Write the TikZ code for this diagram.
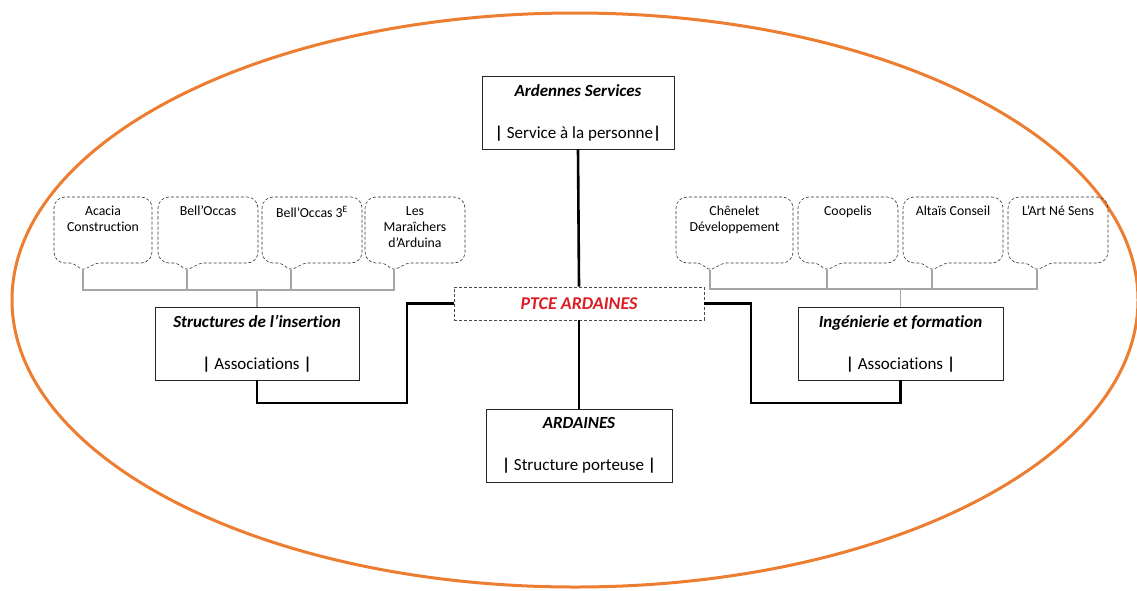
\documentclass[tikz,border=0pt]{standalone}
\usepackage{fontspec}
\setmainfont[Ligatures={NoCommon}]{Carlito}
\newcommand\vb{\textbf{|}}
\begin{document}
\begin{tikzpicture}[x=1pt,y=-1pt,
  bigbox/.style={draw=black!85,line width=0.9pt,fill=white,minimum width=#1,minimum height=73pt,inner sep=0pt,align=center,font=\fontsize{17}{17}\selectfont},
  ctext/.style={anchor=north,inner sep=0pt,align=center,font=\fontsize{13.8}{16}\selectfont},
  callout/.style={draw=black!80,densely dashed,line width=0.6pt},
  mainlink/.style={draw=black,line width=2.6pt},
  sublink/.style={draw=black!35,line width=1.8pt},
  ring/.style={draw={rgb,255:red,237;green,125;blue,49},line width=3pt}
]
\useasboundingbox (0,0) rectangle (1137,590);
\draw[ring] (575,300) ellipse [x radius=563pt, y radius=287pt];

% callout macro: name, x-left, x-right, tip x, text
\newcommand\mycallout[5]{%
  \draw[callout,rounded corners=11pt] (#2,230) -- (#2,197) -- (#3,197) -- (#3,263)
     [rounded corners=2pt] -- ({#4+14},263) -- (#4,270) -- ({#4-11},263) [rounded corners=11pt] -- (#2,263) -- cycle;
  \node[ctext] (#1) at ({(#2+#3)/2},206) {#5};
  \coordinate (#1tip) at (#4,270);
}

% central boxes
\node[bigbox=192pt] (as) at (578,112.5) {\textbf{\textit{Ardennes Services}}\\[25pt]\vb\ Service à la personne\vb};
\node[bigbox=186pt] (ard) at (579,445.5) {\textbf{\textit{ARDAINES}}\\[25pt]\vb\ Structure porteuse \vb};
\node[bigbox=204pt] (sdi) at (257,343.5) {\textbf{\textit{Structures de l’insertion}}\\[25pt]\vb\ Associations \vb};
\node[bigbox=205pt] (ief) at (900.5,343.5) {\textbf{\textit{Ingénierie et formation}}\\[25pt]\vb\ Associations \vb};
\node[draw=black!70,densely dashed,line width=0.7pt,fill=white,minimum width=250pt,minimum height=33pt,inner sep=0pt,
      font=\fontsize{18}{18}\selectfont\bfseries\itshape,text={rgb,255:red,220;green,30;blue,36}] (ptce) at (579,303.5) {PTCE ARDAINES};

% main links
\draw[mainlink] (as.south) -- (ptce.north);
\draw[mainlink] (ptce.south) -- (ard.north);
\draw[mainlink] (ptce.west) -| (407,403) -| (sdi.south);
\draw[mainlink] (ptce.east) -| (751,403) -| (ief.south);

% callouts left
\mycallout{l1}{54}{152}{83}{Acacia\\Construction}
\mycallout{l2}{158}{258}{187}{Bell’Occas}
\mycallout{l3}{262}{362}{291}{Bell’Occas 3\textsuperscript{E}}
\mycallout{l4}{365}{465}{394}{Les\\Maraîchers\\d’Arduina}
% callouts right
\mycallout{r1}{676}{793}{710}{Chênelet\\Développement}
\mycallout{r2}{798}{898}{827}{Coopelis}
\mycallout{r3}{903}{1003}{932}{Altaïs Conseil}
\mycallout{r4}{1008}{1108}{1037}{L’Art Né Sens}

% sub links
\coordinate (lj) at (257,290);
\coordinate (rj) at (900.5,289);
\draw[sublink] (sdi.north) -- (lj);
\draw[sublink] (l1tip) |- (lj) -| (l4tip);
\draw[sublink] (l2tip) -- (l2tip|-lj);
\draw[sublink] (l3tip) -- (l3tip|-lj);
\draw[sublink] (ief.north) -- (rj);
\draw[sublink] (r1tip) |- (rj) -| (r4tip);
\draw[sublink] (r2tip) -- (r2tip|-rj);
\draw[sublink] (r3tip) -- (r3tip|-rj);
\end{tikzpicture}
\end{document}
